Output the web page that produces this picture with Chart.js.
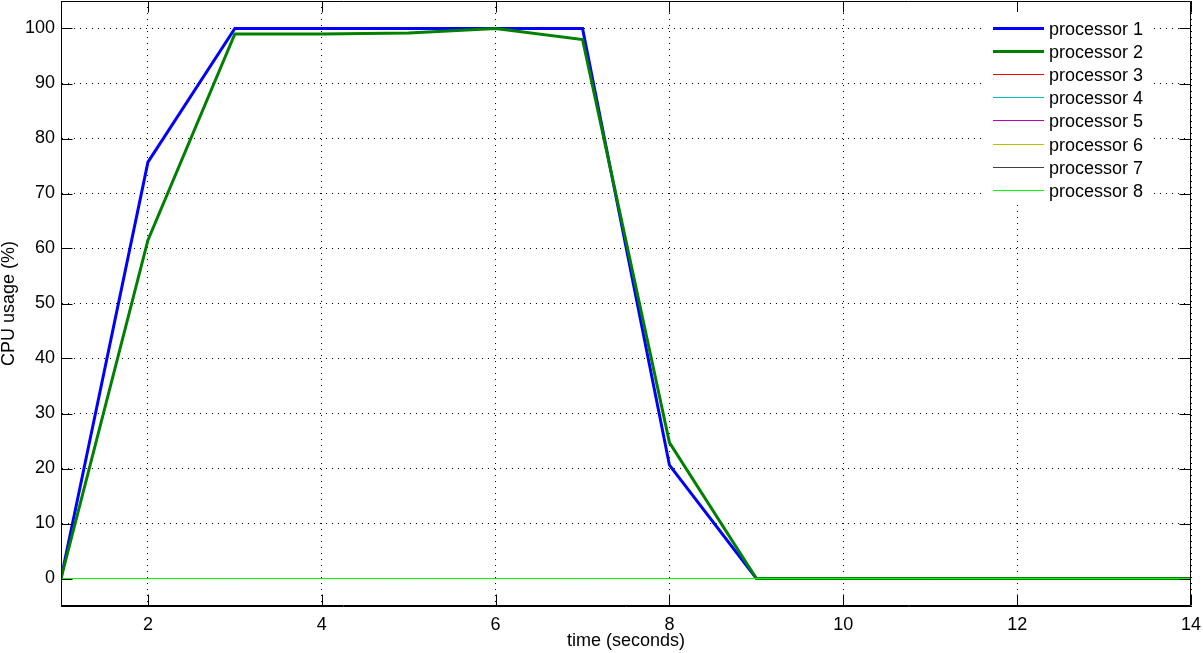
<!DOCTYPE html>
<html>
<head>
<meta charset="utf-8">
<script src="https://cdn.jsdelivr.net/npm/chart.js@4"></script>
<style>
  body { margin: 0; background: #fff; }
  canvas { display: block; }
</style>
</head>
<body>
<canvas id="cpuChart" width="1203" height="653"></canvas>
<script>
//get canvas element
const canvasElement = document.getElementById('cpuChart');

//data
const seconds = [1, 2, 3, 4, 5, 6, 7, 8, 9, 10, 11, 12, 13, 14];
const proc1 = [0, 75.7, 100, 100, 100, 100, 100, 20.6, 0, 0, 0, 0, 0, 0];
const proc2 = [0, 61.5, 99, 99, 99.2, 100, 98, 24.7, 0, 0, 0, 0, 0, 0];
const proc3 = [0, 0, 0, 0, 0, 0, 0, 0, 0, 0, 0, 0, 0, 0];
const proc4 = [0, 0, 0, 0, 0, 0, 0, 0, 0, 0, 0, 0, 0, 0];
const proc5 = [0, 0, 0, 0, 0, 0, 0, 0, 0, 0, 0, 0, 0, 0];
const proc6 = [0, 0, 0, 0, 0, 0, 0, 0, 0, 0, 0, 0, 0, 0];
const proc7 = [0, 0, 0, 0, 0, 0, 0, 0, 0, 0, 0, 0, 0, 0];
const proc8 = [0, 0, 0, 0, 0, 0, 0, 0, 0, 0, 0, 0, 0, 0];
const seriesLabels = ['processor 1', 'processor 2', 'processor 3', 'processor 4',
                      'processor 5', 'processor 6', 'processor 7', 'processor 8'];
const xTicks = [2, 4, 6, 8, 10, 12, 14];
const yTicks = [0, 10, 20, 30, 40, 50, 60, 70, 80, 90, 100];

const allSeries = [proc1, proc2, proc3, proc4, proc5, proc6, proc7, proc8];
const colors = ['#0000ff', '#008000', '#ff0000', '#00bfbf', '#bf00bf', '#bfbf00', '#404040', '#00ff00'];
const widths = [3, 3, 1, 1, 1, 1, 1, 1];
const FONT = 'Liberation Sans, Arial, Helvetica, sans-serif';

let datasets = allSeries.map((vals, i) => ({
  label: seriesLabels[i],
  data: vals.map((v, j) => ({ x: seconds[j], y: v })),
  borderColor: colors[i],
  backgroundColor: colors[i],
  borderWidth: widths[i],
  pointRadius: 0,
  tension: 0,
  order: allSeries.length - i   // first series at the bottom, like matlab
}));

//matlab style box, inner ticks and legend
const matlabBox = {
  id: 'matlabBox',
  afterDraw(chart) {
    const { ctx, chartArea: a, scales } = chart;
    const L = Math.round(a.left) + 0.5, R = Math.round(a.right) - 0.5;
    const T = Math.round(a.top) + 0.5, B = Math.round(a.bottom) - 0.5;
    const tl = 11;
    ctx.save();
    ctx.strokeStyle = '#000';
    ctx.lineWidth = 1;
    ctx.beginPath();
    ctx.rect(L, T, R - L, B - T);
    xTicks.forEach(v => {
      const px = Math.round(scales.x.getPixelForValue(v)) + 0.5;
      ctx.moveTo(px, B); ctx.lineTo(px, B - tl);
      ctx.moveTo(px, T); ctx.lineTo(px, T + tl);
    });
    yTicks.forEach(v => {
      const py = Math.round(scales.y.getPixelForValue(v)) + 0.5;
      ctx.moveTo(L, py); ctx.lineTo(L + tl, py);
      ctx.moveTo(R, py); ctx.lineTo(R - tl, py);
    });
    ctx.stroke();

    //legend
    ctx.fillStyle = '#fff';
    ctx.fillRect(985, 12, 165, 193);
    ctx.font = '18px ' + FONT;
    ctx.textBaseline = 'alphabetic';
    ctx.textAlign = 'left';
    seriesLabels.forEach((lab, i) => {
      const y = 28 + i * 23.1;
      const yy = widths[i] % 2 ? Math.round(y) + 0.5 : Math.round(y);
      ctx.strokeStyle = colors[i];
      ctx.lineWidth = widths[i];
      ctx.beginPath();
      ctx.moveTo(993, yy); ctx.lineTo(1044, yy);
      ctx.stroke();
      ctx.fillStyle = '#000';
      ctx.fillText(lab, 1049, Math.round(y) + 7);
    });
    ctx.restore();
  }
};

//chartjs config
let config = {
  type: 'line',
  data: { datasets: datasets },
  options: {
    responsive: false,
    animation: false,
    events: [],
    layout: { padding: { top: 1, right: 12, left: 0, bottom: 0 } },
    plugins: {
      legend: { display: false },
      tooltip: { enabled: false }
    },
    scales: {
      x: {
        type: 'linear',
        min: 1,
        max: 14,
        afterBuildTicks: s => { s.ticks = xTicks.map(v => ({ value: v })); },
        afterFit: s => { s.height = 47; s.paddingLeft = 0; s.paddingRight = 0; },
        grid: { color: '#000', lineWidth: 1, drawTicks: false },
        border: { display: true, color: '#000', width: 1, dash: [1, 5] },
        ticks: { color: '#000', padding: 8, maxRotation: 0, font: { size: 18, family: FONT } },
        title: {
          display: true, text: 'time (seconds)', color: '#000',
          font: { size: 18, family: FONT, lineHeight: 1.2 }, padding: { top: 0, bottom: 1 }
        }
      },
      y: {
        type: 'linear',
        min: -5,
        max: 105,
        afterBuildTicks: s => { s.ticks = yTicks.map(v => ({ value: v })); },
        afterFit: s => { s.width = 61; s.paddingTop = 0; s.paddingBottom = 0; },
        grid: { color: '#000', lineWidth: 1, drawTicks: false },
        border: { display: true, color: '#000', width: 1, dash: [1, 5] },
        ticks: { color: '#000', padding: 6, font: { size: 18, family: FONT } },
        title: {
          display: true, text: 'CPU usage (%)', color: '#000',
          font: { size: 18, family: FONT, lineHeight: 1 }, padding: { top: 0, bottom: 0 }
        }
      }
    }
  },
  plugins: [matlabBox]
};

let newChart = new Chart(canvasElement, config);
</script>
</body>
</html>
